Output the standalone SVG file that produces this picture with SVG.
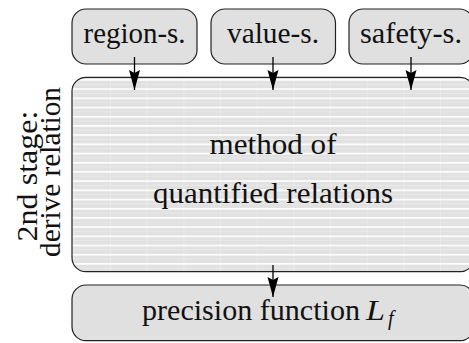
<svg xmlns="http://www.w3.org/2000/svg" width="469" height="343" viewBox="0 0 469 343">
  <style>
    .box { fill: #e0e0e0; stroke: #222; stroke-width: 1.2; }
    .main { fill: url(#stripes); stroke: #222; stroke-width: 1.2; }
    .t { font-family: 'Liberation Serif', 'DejaVu Serif', serif; font-size: 29px; fill: #111; text-anchor: middle; }
    .conn { stroke: #000; stroke-width: 1.3; fill: none; marker-end: url(#arr); }
  </style>
  <defs>
    <pattern id="stripes" patternUnits="userSpaceOnUse" x="110" y="79.1" width="36.67" height="9.2">
      <rect x="0" y="0" width="36.67" height="9.2" fill="#e1e1e1"/>
      <rect x="0" y="4.6" width="36.67" height="1" fill="#e9e9e9"/>
      <rect x="0" y="0" width="0.8" height="9.2" fill="#ececec"/>
      <rect x="0" y="0" width="36.67" height="1.6" fill="#ffffff"/>
    </pattern>
    <marker id="arr" markerUnits="userSpaceOnUse" markerWidth="20" markerHeight="12" refX="20" refY="6" orient="auto">
      <path d="M0,0.5 L20,6 L0,11.5 L3,6 Z" fill="#000"/>
    </marker>
  </defs>

  <g id="side-label">
    <text class="t" x="37" y="176" transform="rotate(-90 37 176)" textLength="131" lengthAdjust="spacingAndGlyphs">2nd stage:</text>
    <text class="t" x="60" y="172" transform="rotate(-90 60 172)" textLength="170" lengthAdjust="spacingAndGlyphs">derive relation</text>
  </g>

  <g id="region-s">
    <rect class="box" x="72" y="9" width="125" height="55" rx="14" ry="14"/>
    <text class="t" x="134.5" y="43" textLength="102" lengthAdjust="spacingAndGlyphs">region-s.</text>
  </g>
  <g id="value-s">
    <rect class="box" x="211" y="9" width="124.5" height="55" rx="14" ry="14"/>
    <text class="t" x="273" y="43" textLength="92" lengthAdjust="spacingAndGlyphs">value-s.</text>
  </g>
  <g id="safety-s">
    <rect class="box" x="349" y="9" width="124.5" height="55" rx="14" ry="14"/>
    <text class="t" x="411" y="43" textLength="102" lengthAdjust="spacingAndGlyphs">safety-s.</text>
  </g>

  <g id="method">
    <rect class="main" x="72" y="77.3" width="402" height="194.4" rx="14" ry="14"/>
    <text class="t" x="273" y="154" textLength="127" lengthAdjust="spacingAndGlyphs">method of</text>
    <text class="t" x="273" y="203" textLength="240" lengthAdjust="spacingAndGlyphs">quantified relations</text>
  </g>

  <g id="precision">
    <rect class="box" x="72" y="285" width="402" height="55.7" rx="14" ry="14"/>
    <text class="t" x="142" y="320" style="text-anchor:start" textLength="218" lengthAdjust="spacingAndGlyphs">precision function</text>
    <text class="t" x="366" y="320" style="text-anchor:start;font-style:italic" textLength="19" lengthAdjust="spacingAndGlyphs">L</text>
    <text class="t" x="388" y="325" style="text-anchor:start;font-style:italic;font-size:20px">f</text>
  </g>

  <g id="connectors">
    <line class="conn" x1="134.5" y1="57" x2="134.5" y2="90"/>
    <line class="conn" x1="273" y1="57" x2="273" y2="90"/>
    <line class="conn" x1="411" y1="57" x2="411" y2="90"/>
    <line class="conn" x1="273" y1="265" x2="273" y2="297"/>
  </g>
</svg>
